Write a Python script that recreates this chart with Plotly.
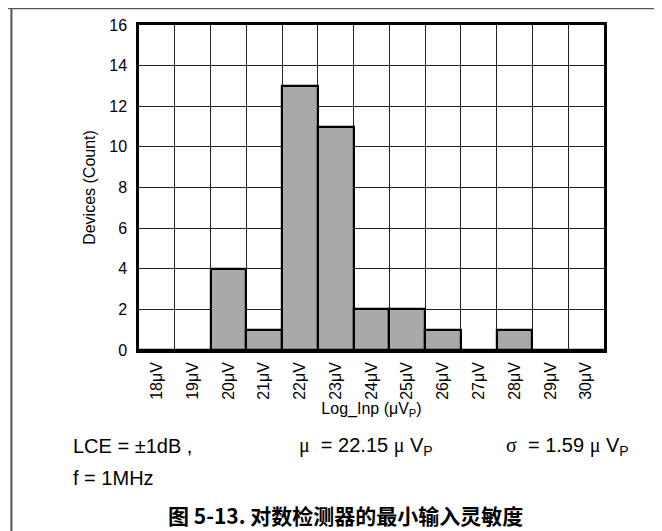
import plotly.graph_objects as go

categories = ["18μV", "19μV", "20μV", "21μV", "22μV", "23μV", "24μV",
              "25μV", "26μV", "27μV", "28μV", "29μV", "30μV"]
counts = [0, 0, 4, 1, 13, 11, 2, 2, 1, 0, 1, 0, 0]
y_ticks = [0, 2, 4, 6, 8, 10, 12, 14, 16]

W, H = 662, 531
L, R, T, B = 131, 595.7, 17, 342
pw, ph = R - L, B - T

def px(x):
    return (x - L) / pw

def py(y):
    return (B - y) / ph

FONT = "Liberation Sans, Arial, sans-serif"
SERIF = "Liberation Serif, Times New Roman, serif"

fig = go.Figure(go.Bar(
    x=categories, y=counts,
    marker=dict(color="#a9a9a9", line=dict(color="black", width=2.2)),
    width=1.0,
))

fig.update_layout(
    width=W, height=H,
    margin=dict(l=L, r=W - R, t=T, b=H - B),
    paper_bgcolor="white", plot_bgcolor="white",
    bargap=0, showlegend=False,
    font=dict(family=FONT, color="black", size=16),
)

fig.update_xaxes(
    type="category", tickson="boundaries", tickangle=-90,
    showgrid=True, gridcolor="#222", gridwidth=1,
    showline=True, linecolor="black", linewidth=2.5, mirror=True,
    ticks="", ticklabelstandoff=3,
    tickfont=dict(size=16, family=FONT),
    title=dict(text="Log_Inp (μV<sub>P</sub>)", font=dict(size=16, family=FONT), standoff=2),
    automargin=False,
)
fig.update_yaxes(
    range=[0, 16], tickvals=y_ticks,
    showgrid=True, gridcolor="#222", gridwidth=1,
    showline=True, linecolor="black", linewidth=2.5, mirror=True,
    ticks="", ticklabelstandoff=6, zeroline=False,
    tickfont=dict(size=16, family=FONT),
    title=dict(text="Devices (Count)", font=dict(size=16, family=FONT), standoff=10),
    automargin=False,
)

ann_font = dict(size=20, family=FONT, color="black")
fig.add_annotation(text="LCE = ±1dB ,", xref="paper", yref="paper",
                   x=px(63), y=py(438), xanchor="left", yanchor="middle",
                   showarrow=False, font=ann_font)
fig.add_annotation(text="f = 1MHz", xref="paper", yref="paper",
                   x=px(63), y=py(470), xanchor="left", yanchor="middle",
                   showarrow=False, font=ann_font)
fig.add_annotation(text=f"<span style='font-family:{SERIF}'>μ</span>  = 22.15 <span style='font-family:{SERIF}'>μ</span> V<sub>P</sub>",
                   xref="paper", yref="paper",
                   x=px(289), y=py(438), xanchor="left", yanchor="middle",
                   showarrow=False, font=ann_font)
fig.add_annotation(text=f"<span style='font-family:{SERIF}'>σ</span>  = 1.59 <span style='font-family:{SERIF}'>μ</span> V<sub>P</sub>",
                   xref="paper", yref="paper",
                   x=px(496), y=py(438), xanchor="left", yanchor="middle",
                   showarrow=False, font=ann_font)
fig.add_annotation(text="<b>图 5-13. 对数检测器的最小输入灵敏度</b>",
                   xref="paper", yref="paper",
                   x=px(337), y=py(507), xanchor="center", yanchor="middle",
                   showarrow=False,
                   font=dict(size=21, family="Noto Sans CJK SC, sans-serif", color="black"))

# outer frame (top and left edges)
fig.add_shape(type="line", xref="paper", yref="paper",
              x0=px(0), x1=px(W), y0=py(0.5), y1=py(0.5),
              line=dict(color="#555", width=1.5))
fig.add_shape(type="line", xref="paper", yref="paper",
              x0=px(3.5), x1=px(3.5), y0=py(0), y1=py(H),
              line=dict(color="#555", width=2))

fig.write_html("out.html")
